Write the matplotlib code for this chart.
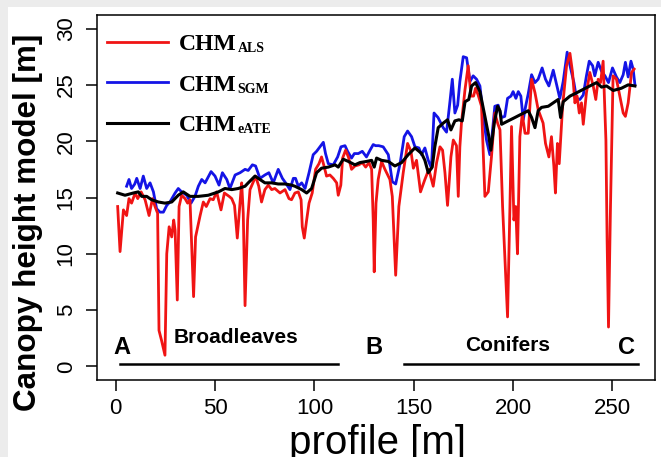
import matplotlib
matplotlib.use('Agg')
import matplotlib.pyplot as plt
from matplotlib.patches import Rectangle

# CHM from airborne laser scanning (red)
als_x = [1, 2.2, 3.9, 5.5, 6.7, 8.0, 9.8, 11.1, 12.8, 14.8, 16.8, 18.5, 19.8, 21.1, 21.8, 23.1, 24.8, 25.7,
         26.9, 28.2, 29.2, 29.9, 31.0, 31.9, 33.2, 34.9, 36.2, 37.4, 39.2, 40.2, 42.5, 44.1, 45.6, 47.5, 49.1,
         50.8, 53.0, 54.7, 57.1, 58.4, 59.8, 61.2, 62.6, 63.4, 64.2, 65.1, 66.4, 67.6, 69.3, 70.4, 72.0, 73.4,
         75.1, 76.8, 78.5, 80.1, 82.7, 85.2, 87.2, 88.5, 90.2, 91.9, 93.3, 93.9, 94.9, 96.1, 97.3, 98.9, 100.6,
         102.3, 103.6, 105.0, 106.1, 107.8, 109.5, 111.2, 112.0, 113.3, 114.2, 115.7, 117.1, 118.7, 120.4,
         122.4, 124.1, 125.8, 127.5, 128.8, 129.6, 130.1, 131.0, 132.1, 133.8, 135.5, 138.0, 139.2, 140.9,
         142.5, 144.7, 146.9, 148.6, 149.8, 151.4, 153.4, 155.6, 157.6, 159.8, 161.5, 163.2, 164.5, 165.7,
         167.0, 168.7, 169.9, 171.5, 172.4, 173.2, 174.0, 175.8, 177.4, 178.8, 180.1, 181.1, 182.4, 184.1,
         185.8, 187.5, 189.1, 190.8, 192.2, 193.4, 194.7, 197.2, 198.4, 199.2, 200.4, 201.3, 202.2, 203.4,
         204.6, 206.0, 207.6, 209.3, 211.0, 212.6, 215.1, 216.3, 218.0, 219.3, 220.5, 221.3, 222.3, 223.2,
         224.9, 226.9, 228.6, 229.9, 231.1, 232.2, 233.3, 234.4, 235.3, 236.9, 238.6, 240.3, 241.6, 242.8,
         244.0, 245.3, 246.7, 247.3, 248.0, 249.0, 250.3, 252.0, 253.7, 255.4, 256.5, 257.9, 259.6, 260.9]
als_y = [14.2, 10.2, 13.9, 13.4, 14.9, 14.5, 15.4, 14.9, 15.5, 14.8, 13.4, 14.9, 14.2, 13.6, 3.2, 2.3, 1.0, 10.0,
         12.4, 11.5, 13.0, 12.1, 5.9, 14.2, 15.2, 14.9, 14.5, 14.8, 6.2, 11.5, 13.4, 14.6, 14.2, 14.9, 14.8,
         15.5, 13.9, 15.4, 15.1, 14.9, 14.3, 11.4, 14.6, 16.3, 13.6, 5.4, 13.0, 15.7, 16.4, 16.9, 16.0, 14.6,
         15.7, 16.1, 15.7, 15.8, 15.4, 15.7, 14.9, 14.8, 15.4, 15.5, 14.8, 12.4, 11.4, 13.0, 14.5, 15.4, 17.5,
         18.0, 18.6, 17.7, 16.9, 17.0, 16.7, 16.3, 15.2, 16.1, 18.5, 19.2, 18.6, 17.5, 17.8,
         17.9, 18.1, 17.7, 18.1, 17.5, 13.0, 8.4, 14.5, 16.6, 18.2, 17.5, 16.6, 15.1, 8.1,
         14.2, 17.2, 19.8, 19.1, 17.6, 18.3, 15.5, 16.6, 17.5, 16.0, 18.1, 19.5, 19.2, 17.2,
         14.3, 18.6, 20.1, 19.6, 15.1, 19.5, 21.6, 24.6, 26.7, 24.0, 24.0, 24.7, 24.1, 23.1,
         15.1, 15.5, 18.6, 22.5, 21.6, 21.0, 14.2, 4.4, 14.2, 21.3, 13.0, 14.2, 10.0, 20.4,
         22.4, 20.7, 20.7, 25.5, 24.3, 22.8, 21.6, 19.8, 18.6, 20.4, 17.8, 15.4, 19.8, 18.0,
         23.1, 26.7, 27.8, 26.1, 23.4, 24.0, 22.5, 23.4, 21.5, 24.3, 26.1, 24.9, 23.7, 25.5,
         25.2, 27.1, 20.1, 11.2, 3.5, 14.2, 25.8, 25.5, 24.0, 22.5, 22.2, 23.4, 26.1, 26.4]

# CHM from semi-global matching (blue)
sgm_x = [5.5, 6.7, 8.0, 9.6, 10.6, 12.3, 13.9, 15.6, 17.3, 19.0, 20.6, 22.3, 24.0, 25.7, 27.3, 29.9, 31.5,
         33.2, 35.7, 37.9, 39.9, 41.6, 43.3, 45.0, 48.0, 50.0, 52.0, 53.7, 55.9, 57.5, 60.1, 62.6, 65.1, 66.7,
         68.8, 70.4, 72.6, 75.1, 77.1, 79.3, 81.8, 83.9, 85.5, 87.7, 89.4, 90.5, 91.9, 93.6, 95.3, 97.3, 99.4,
         101.1, 102.8, 104.5, 105.6, 107.0, 109.5, 111.7, 113.4, 115.4, 116.7, 118.7, 120.1, 122.1, 124.1,
         126.2, 128.0, 129.6, 130.8, 132.4, 134.6, 137.2, 139.2, 140.9, 143.1, 145.2, 146.9, 148.9, 150.6,
         152.6, 153.9, 155.6, 157.3, 158.9, 160.2, 162.2, 164.8, 166.5, 168.2, 169.4, 170.7, 172.1, 173.2,
         174.9, 176.6, 178.3, 179.9, 181.6, 183.3, 185.0, 186.6, 188.3, 189.5, 190.8, 192.5, 194.2, 195.8,
         197.2, 198.9, 200.0, 201.4, 202.6, 203.9, 205.1, 206.3, 207.6, 209.3, 211.0, 212.6, 214.6, 216.3,
         218.0, 220.2, 221.9, 223.5, 225.2, 227.2, 228.9, 230.6, 231.9, 233.6, 235.3, 236.9, 238.3, 240.0,
         241.1, 242.8, 244.5, 246.2, 248.0, 250.0, 252.0, 253.7, 255.4, 256.5, 257.9, 259.3, 260.4, 261.3]
sgm_y = [16.0, 16.6, 15.8, 16.2, 16.7, 15.8, 16.9, 15.8, 16.3, 15.5, 14.0, 13.7, 13.7, 14.3, 14.6, 15.4, 15.8,
         15.5, 15.2, 14.5, 15.1, 16.0, 16.6, 16.3, 17.3, 16.9, 16.1, 17.2, 16.6, 15.8, 17.0, 17.2, 17.5, 17.4,
         17.9, 17.8, 16.7, 17.0, 17.2, 16.3, 17.5, 16.7, 16.3, 15.7, 16.7, 16.7, 16.0, 16.3, 15.8, 17.2, 18.8,
         19.1, 19.5, 19.9, 18.9, 18.0, 17.9, 18.6, 19.5, 19.6, 19.1, 18.5, 18.9, 18.9, 19.1,
         18.6, 19.2, 19.7, 19.6, 19.6, 19.5, 18.8, 16.4, 16.2, 18.0, 20.4, 20.9, 20.4, 19.5,
         19.4, 18.8, 19.4, 18.3, 17.6, 22.5, 22.1, 21.2, 20.8, 23.5, 25.5, 22.5, 23.2, 25.3,
         27.5, 27.4, 25.3, 25.8, 25.5, 24.9, 22.2, 20.1, 18.8, 20.7, 23.1, 23.2, 22.1, 22.2,
         23.8, 24.0, 24.4, 23.8, 24.4, 24.0, 21.9, 23.1, 24.2, 25.9, 25.2, 25.5, 26.5, 25.5,
         24.9, 26.3, 25.0, 23.8, 25.3, 27.9, 26.5, 25.2, 23.8, 23.7, 24.1, 25.8, 27.1, 26.7,
         25.8, 27.0, 26.2, 25.8, 25.2, 26.5, 25.7, 25.2, 25.9, 27.0, 25.7, 27.1, 26.4, 25.0]

# CHM from enhanced automatic terrain extraction (black)
ate_x = [1, 4.7, 8.9, 11.4, 13.1, 15.6, 18.1, 21.5, 24.8, 28.2, 31.5, 34.0, 37.4, 41.6, 46.6, 51.7, 55.0, 58.4,
         61.7, 65.1, 66.7, 68.4, 70.1, 72.6, 75.1, 78.5, 81.8, 85.2, 88.5, 90.2, 93.6, 96.1, 98.6, 101.1, 103.6,
         107.0, 110.4, 112.0, 114.5, 117.1, 120.4, 122.9, 126.2, 128.8, 130.1, 131.3, 133.8, 137.2, 140.5,
         143.9, 147.2, 150.6, 154.0, 155.6, 157.3, 159.3, 160.6, 162.3, 164.8, 167.0, 168.7, 170.7, 172.7,
         174.4, 175.8, 177.7, 179.1, 181.1, 183.3, 185.8, 187.8, 188.8, 190.5, 192.2, 193.4, 194.2, 197.5,
         200.9, 204.2, 207.6, 209.3, 211.0, 212.6, 214.3, 217.7, 221.0, 222.7, 223.9, 225.2, 228.6, 232.0,
         235.3, 238.6, 242.0, 244.5, 247.0, 250.4, 254.5, 257.9, 261.3]
ate_y = [15.4, 15.2, 15.4, 15.5, 15.1, 15.1, 14.8, 14.6, 14.5, 14.6, 15.2, 15.5, 15.1, 15.1, 15.2, 15.5, 15.8, 15.7,
         15.8, 16.0, 16.3, 16.6, 16.9, 16.6, 16.3, 16.3, 16.2, 16.2, 16.1, 16.0, 15.7, 15.4, 15.8, 17.2, 17.6,
         17.7, 17.9, 17.7, 18.4, 18.2, 17.9, 18.1, 18.2, 18.3, 17.7, 18.5, 18.3, 18.2, 17.8,
         18.1, 18.8, 19.4, 18.9, 18.3, 17.2, 17.7, 19.5, 21.2, 21.6, 21.9, 21.0, 21.8, 21.9,
         21.8, 23.5, 23.7, 24.9, 25.2, 24.4, 22.2, 20.4, 19.2, 21.6, 23.1, 22.7, 21.5, 21.8,
         22.1, 22.4, 22.7, 22.1, 21.2, 22.7, 23.0, 23.1, 23.5, 23.7, 22.1, 23.5, 24.0, 24.3,
         24.6, 24.9, 25.2, 24.8, 24.9, 24.5, 24.7, 25.0, 24.9]

# Forest type sections along the profile
broadleaf_span = [2.4, 112]
conifer_span = [145, 263]
span_y = 0.2
section_letters = ['A', 'B', 'C']
section_letter_x = [2.9, 130, 257.3]
section_letter_y = 1.1
forest_labels = ['Broadleaves', 'Conifers']
forest_label_x = [60.7, 197]
forest_label_y = [2.1, 1.4]

legend_subs = ['ALS', 'SGM', 'eATE']

fig = plt.figure(figsize=(6.61, 4.57), dpi=100)
fig.patch.set_facecolor('#ececec')
fig.patches.append(Rectangle((8 / 661, 0), 1, 1 - 7 / 457, transform=fig.transFigure,
                             facecolor='white', edgecolor='none', zorder=-1))
ax = fig.add_axes([97 / 661, 1 - 380 / 457, 558 / 661, 365 / 457])

l_sgm, = ax.plot(sgm_x, sgm_y, color='#1414e6', lw=2.0)
l_als, = ax.plot(als_x, als_y, color='#f01414', lw=2.0)
l_ate, = ax.plot(ate_x, ate_y, color='black', lw=2.2)

ax.plot(broadleaf_span, [span_y, span_y], color='black', lw=1.8)
ax.plot(conifer_span, [span_y, span_y], color='black', lw=1.8)

for lab, x in zip(section_letters, section_letter_x):
    ax.text(x, section_letter_y, lab, ha='center', va='baseline', fontsize=17,
            fontweight='bold', family='Liberation Sans')
for lab, x, y in zip(forest_labels, forest_label_x, forest_label_y):
    ax.text(x, y, lab, ha='center', va='baseline', fontsize=15,
            fontweight='bold', family='Liberation Sans')

ax.set_xlim(-9.4, 271.4)
ax.set_ylim(-1.2, 31.2)
ax.set_xticks(range(0, 251, 50))
ax.set_yticks(range(0, 31, 5))
ax.tick_params(direction='out', length=8, width=1.1, labelsize=16, pad=4.8)
ax.tick_params(axis='y', pad=6.6)
for lab in ax.get_xticklabels() + ax.get_yticklabels():
    lab.set_family('Liberation Sans')
for lab in ax.get_yticklabels():
    lab.set_rotation(90)
    lab.set_va('center')
for s in ax.spines.values():
    s.set_linewidth(1.1)

ax.set_xlabel('profile [m]', fontsize=29, family='Liberation Sans', va='baseline')
ax.xaxis.set_label_coords(0.503, -0.2016)
ax.set_ylabel('Canopy height model [m]', fontsize=22.6, fontweight='bold', family='Liberation Sans')
ax.yaxis.set_label_coords(-0.0968, 0.433)

leg = ax.legend(handles=[l_als, l_sgm, l_ate], labels=['CHM'] * 3, loc='upper left',
                bbox_to_anchor=(0.018, 0.949), frameon=False, borderaxespad=0, borderpad=0,
                handlelength=2.6, handletextpad=0.45, labelspacing=0.8,
                prop=dict(family='Liberation Serif', weight='bold', size=17))
for t, sub in zip(leg.get_texts(), legend_subs):
    ax.annotate(sub, xy=(1, 0), xycoords=t, xytext=(0.5, 0), textcoords='offset points',
                ha='left', va='bottom', fontsize=10, fontweight='bold',
                family='Liberation Serif', zorder=6)

fig.savefig('out.png', dpi=100, facecolor=fig.get_facecolor())
